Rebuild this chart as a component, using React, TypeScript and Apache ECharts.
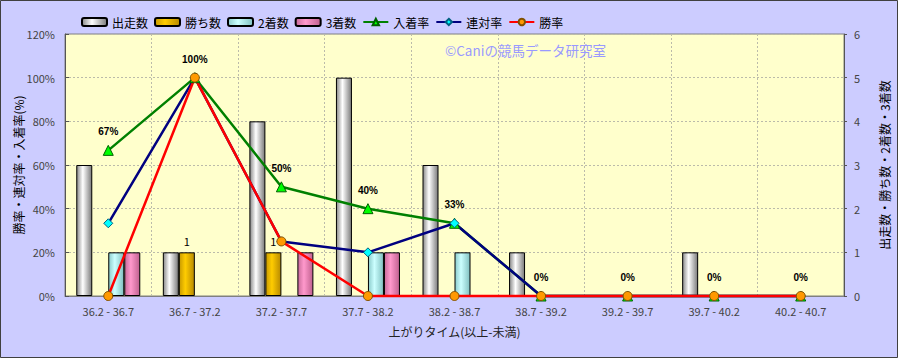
import React, { useEffect, useRef } from "react";
import * as echarts from "echarts";

const categories = [
  "36.2 - 36.7", "36.7 - 37.2", "37.2 - 37.7", "37.7 - 38.2", "38.2 - 38.7",
  "38.7 - 39.2", "39.2 - 39.7", "39.7 - 40.2", "40.2 - 40.7",
];
const runs = [3, 1, 4, 5, 3, 1, 0, 1, 0];
const wins = [0, 1, 1, 0, 0, 0, 0, 0, 0];
const seconds = [1, 0, 0, 1, 1, 0, 0, 0, 0];
const thirds = [1, 0, 1, 1, 0, 0, 0, 0, 0];
const placeRate = [66.7, 100, 50, 40, 33.3, 0, 0, 0, 0];
const quinellaRate = [33.3, 100, 25, 20, 33.3, 0, 0, 0, 0];
const winRate = [0, 100, 25, 0, 0, 0, 0, 0, 0];
const leftTicks = { min: 0, max: 120, interval: 20 };
const rightTicks = { min: 0, max: 6, interval: 1 };

const FONT = "'Noto Sans CJK JP', 'Noto Sans', sans-serif";

function grad(edge1: string, mid: string, edge2: string) {
  return new echarts.graphic.LinearGradient(0, 0, 1, 0, [
    { offset: 0, color: edge1 },
    { offset: 0.4, color: mid },
    { offset: 1, color: edge2 },
  ]);
}

const nz = (arr: number[]) => arr.map((v) => (v === 0 ? null : v));

export default function App() {
  const ref = useRef<HTMLDivElement>(null);
  useEffect(() => {
    if (!ref.current) return;
    const chart = echarts.init(ref.current, null, { renderer: "svg" });
    const barBase = {
      type: "bar",
      yAxisIndex: 1,
      barWidth: 16,
      barGap: "0%",
    };
    const option: any = {
      animation: false,
      backgroundColor: "#CCCCFF",
      textStyle: { fontFamily: FONT },
      legend: {
        left: 76,
        top: 11,
        itemWidth: 25,
        itemHeight: 8,
        itemGap: 6,
        textStyle: { fontSize: 12, color: "#000", fontFamily: FONT },
        data: ["出走数", "勝ち数", "2着数", "3着数", "入着率", "連対率", "勝率"],
      },
      grid: {
        left: 65,
        right: 54,
        top: 34,
        bottom: 62,
        outerBoundsMode: "none",
        containLabel: false,
        show: true,
        backgroundColor: "#FFFFCC",
        borderColor: "#808080",
        borderWidth: 1,
      },
      graphic: [
        {
          type: "text",
          x: 445,
          y: 43,
          style: {
            text: "©Caniの競馬データ研究室",
            fill: "#9999FF",
            fontSize: 13.5,
            fontFamily: FONT,
          },
          z: 1,
        },
        {
          type: "rect",
          shape: { x: 0.5, y: 0.5, width: 897, height: 357 },
          style: { fill: "none", stroke: "#404040", lineWidth: 1 },
          silent: true,
        },
      ],
      xAxis: {
        type: "category",
        data: categories,
        name: "上がりタイム(以上-未満)",
        nameLocation: "middle",
        nameGap: 29,
        nameMoveOverlap: false,
        nameTextStyle: { fontSize: 12, color: "#222", fontFamily: FONT },
        axisLine: { lineStyle: { color: "#808080" } },
        axisTick: { show: false },
        axisLabel: { fontSize: 11, color: "#444", margin: 9, fontFamily: FONT },
        splitLine: { show: true, lineStyle: { color: "#BBBBAA", type: [2, 2] } },
      },
      yAxis: [
        {
          type: "value",
          ...leftTicks,
          name: "勝率・連対率・入着率(%)",
          nameLocation: "middle",
          nameGap: 41,
          nameRotate: 90,
          nameMoveOverlap: false,
          nameTextStyle: { fontSize: 12, color: "#000", fontFamily: FONT },
          axisLine: { show: true, lineStyle: { color: "#555" } },
          axisTick: { show: true, inside: true, length: 4, lineStyle: { color: "#555" } },
          axisLabel: { formatter: "{value}%", fontSize: 11, color: "#444", margin: 10, fontFamily: FONT },
          splitLine: { show: true, lineStyle: { color: "#BBBBAA", type: [2, 2] } },
        },
        {
          type: "value",
          ...rightTicks,
          position: "right",
          name: "出走数・勝ち数・2着数・3着数",
          nameLocation: "middle",
          nameGap: 34,
          nameRotate: 90,
          nameMoveOverlap: false,
          nameTextStyle: { fontSize: 12, color: "#000", fontFamily: FONT },
          axisLine: { show: true, lineStyle: { color: "#555" } },
          axisTick: { show: true, inside: false, length: 3, lineStyle: { color: "#555" } },
          axisLabel: { fontSize: 11, color: "#444", margin: 10, fontFamily: FONT },
          splitLine: { show: false },
        },
      ],
      series: [
        {
          ...barBase,
          name: "出走数",
          data: nz(runs),
          itemStyle: { color: grad("#8A8A8A", "#FFFFFF", "#7A7A7A"), borderColor: "#000", borderWidth: 1 },
        },
        {
          ...barBase,
          name: "勝ち数",
          data: nz(wins),
          itemStyle: { color: grad("#C89A00", "#FFCC00", "#B88A00"), borderColor: "#000", borderWidth: 1 },
          label: {
            show: true,
            position: "top",
            distance: 6,
            formatter: "{c}",
            fontSize: 11,
            color: "#000",
            fontFamily: FONT,
          },
        },
        {
          ...barBase,
          name: "2着数",
          data: nz(seconds),
          itemStyle: { color: grad("#8CCCCC", "#CCFFFF", "#80C0C0"), borderColor: "#000", borderWidth: 1 },
        },
        {
          ...barBase,
          name: "3着数",
          data: nz(thirds),
          itemStyle: { color: grad("#C86A9A", "#FF99CC", "#C0608F"), borderColor: "#000", borderWidth: 1 },
        },
        {
          type: "line",
          name: "入着率",
          yAxisIndex: 0,
          data: placeRate,
          clip: false,
          symbol: "triangle",
          symbolSize: 10,
          lineStyle: { color: "#008000", width: 2.5 },
          itemStyle: { color: "#00FF00", borderColor: "#006000", borderWidth: 1 },
          label: {
            show: true,
            position: "top",
            distance: 8,
            formatter: (p: any) => Math.round(p.value) + "%",
            fontSize: 10,
            fontWeight: "bold",
            color: "#000",
            fontFamily: "'Liberation Sans', sans-serif",
          },
        },
        {
          type: "line",
          name: "連対率",
          yAxisIndex: 0,
          data: quinellaRate,
          clip: false,
          symbol: "diamond",
          symbolSize: 9,
          lineStyle: { color: "#000080", width: 2.5 },
          itemStyle: { color: "#00FFFF", borderColor: "#006080", borderWidth: 1 },
        },
        {
          type: "line",
          name: "勝率",
          yAxisIndex: 0,
          data: winRate,
          clip: false,
          symbol: "circle",
          symbolSize: 9,
          lineStyle: { color: "#FF0000", width: 2.5 },
          itemStyle: { color: "#FF9900", borderColor: "#805000", borderWidth: 1 },
        },
      ],
    };
    chart.setOption(option);
    return () => chart.dispose();
  }, []);
  return (
    <div
      ref={ref}
      style={{ position: "fixed", left: 0, top: 0, width: 898, height: 358 }}
    />
  );
}
